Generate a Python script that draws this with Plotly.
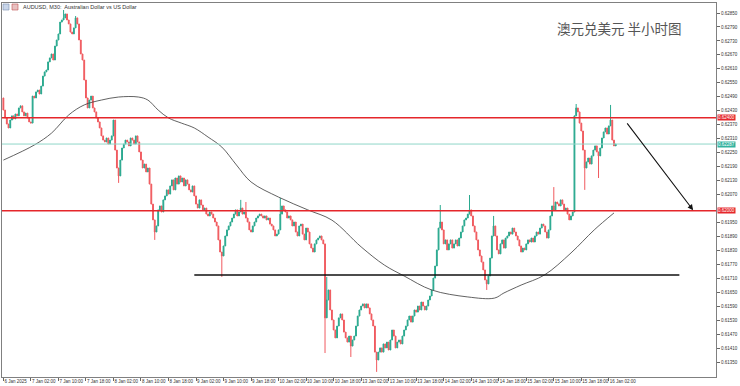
import plotly.graph_objects as go

# ---------------- data (prices in 1e-5 units) ----------------
first_open_e5 = 62485
closes_e5 = [
    62433, 62399, 62373, 62356, 62390, 62408, 62395, 62416, 62408, 62442,
    62451, 62425, 62408, 62420, 62399, 62382, 62377, 62493, 62485, 62511,
    62519, 62502, 62536, 62579, 62597, 62605, 62640, 62657, 62674, 62648,
    62708, 62734, 62760, 62811, 62820, 62829, 62846, 62820, 62803, 62768,
    62760, 62786, 62829, 62803, 62734, 62674, 62648, 62562, 62485, 62442,
    62476, 62493, 62442, 62425, 62399, 62382, 62356, 62322, 62304, 62296,
    62313, 62287, 62304, 62322, 62390, 62261, 62184, 62150, 62218, 62270,
    62287, 62304, 62296, 62279, 62313, 62304, 62287, 62322, 62296, 62253,
    62218, 62184, 62201, 62167, 62184, 62115, 62029, 61961, 61909, 61935,
    62004, 62021, 61995, 62047, 62064, 62090, 62072, 62107, 62133, 62090,
    62141, 62115, 62150, 62124, 62141, 62107, 62133, 62115, 62090, 62081,
    62107, 62064, 62029, 62012, 62047, 62025, 62004, 62012, 61986, 61978,
    61995, 61986, 61969, 61952, 61935, 61875, 61823, 61806, 61849, 61892,
    61918, 61935, 61952, 61969, 61986, 62004, 61978, 61995, 62012, 61986,
    61995, 61969, 61952, 61918, 61909, 61935, 61952, 61969, 61978, 61986,
    61978, 61969, 61978, 61961, 61969, 61943, 61935, 61918, 61892, 61900,
    61918, 61986, 62021, 62004, 61995, 61969, 61978, 61961, 61935, 61952,
    61909, 61892, 61935, 61943, 61900, 61875, 61926, 61909, 61858, 61840,
    61823, 61858, 61875, 61883, 61892, 61875, 61858, 61540, 61617, 61660,
    61574, 61531, 61488, 61454, 61505, 61540, 61557, 61531, 61479, 61454,
    61436, 61462, 61419, 61445, 61462, 61505, 61548, 61574, 61591, 61600,
    61583, 61600, 61583, 61557, 61531, 61505, 61393, 61359, 61393, 61411,
    61393, 61428, 61411, 61436, 61402, 61445, 61488, 61462, 61411, 61436,
    61445, 61428, 61462, 61488, 61505, 61531, 61548, 61522, 61548, 61574,
    61565, 61591, 61574, 61608, 61591, 61574, 61591, 61617, 61634, 61660,
    61711, 61763, 61832, 61926, 61952, 61918, 61858, 61875, 61832, 61858,
    61875, 61840, 61858, 61875, 61849, 61883, 61909, 61935, 61961, 61969,
    61986, 62004, 61978, 61935, 61909, 61875, 61832, 61806, 61780, 61746,
    61703, 61686, 61720, 61797, 61892, 61935, 61892, 61832, 61815, 61858,
    61875, 61840, 61883, 61892, 61909, 61900, 61926, 61909, 61892, 61875,
    61849, 61823, 61840, 61832, 61858, 61875, 61866, 61883, 61866, 61892,
    61909, 61900, 61926, 61943, 61935, 61909, 61883, 61918, 61978, 62021,
    62004, 62038, 62030, 62021, 62047, 62029, 62004, 62012, 61986, 61961,
    61978, 61995, 62408, 62442, 62425, 62377, 62343, 62261, 62184, 62210,
    62227, 62201, 62236, 62261, 62279, 62253, 62236, 62270, 62313, 62339,
    62356, 62330, 62365, 62390, 62304, 62279, 62287,
]
wick_high_e5 = {35: 62863, 42: 62837, 138: 62047, 141: 62038, 161: 62055,
                188: 61716, 254: 62025, 271: 62068, 285: 61978, 320: 62102,
                333: 62459, 353: 62455}
wick_low_e5 = {67: 62120, 88: 61875, 127: 61716, 187: 61389, 202: 61372,
               217: 61308, 281: 61660, 338: 62090, 346: 62141}

ma_bars = [0, 18, 28, 38, 47, 57, 67, 78.5, 84, 90, 96, 103.5, 111, 119, 127,
           135.5, 144, 160, 177, 191, 208, 221.5, 233, 249, 270, 285.5, 291,
           301, 314.5, 330, 343.5, 355]
ma_e5 = [62218, 62283, 62334, 62412, 62455, 62476, 62489, 62489, 62476, 62433,
         62399, 62377, 62356, 62317, 62274, 62197, 62124, 62059, 62004, 61960,
         61845, 61767, 61720, 61660, 61630, 61625, 61647, 61681, 61724, 61819,
         61918, 61991]

tick_bars = list(range(0, 353, 16))
tick_text = ["6 Jan 2025", "7 Jan 02:00", "7 Jan 10:00", "7 Jan 18:00",
             "8 Jan 02:00", "8 Jan 10:00", "8 Jan 18:00", "9 Jan 02:00",
             "9 Jan 10:00", "9 Jan 18:00", "10 Jan 02:00", "10 Jan 10:00",
             "10 Jan 18:00", "13 Jan 02:00", "13 Jan 10:00", "13 Jan 18:00",
             "14 Jan 02:00", "14 Jan 10:00", "14 Jan 18:00", "15 Jan 02:00",
             "15 Jan 10:00", "15 Jan 18:00", "16 Jan 02:00"]
# 0.62010 is hidden behind the support price box in the reference
y_tick_text = ["0.62850", "0.62790", "0.62730", "0.62670", "0.62610", "0.62550",
               "0.62490", "0.62430", "0.62370", "0.62310", "0.62250", "0.62190",
               "0.62130", "0.62070", "0.61950", "0.61890", "0.61830",
               "0.61770", "0.61710", "0.61650", "0.61590", "0.61530", "0.61470",
               "0.61410", "0.61350"]

resistance = 0.62400
support = 0.62000
bid = 0.62287
floor_level = 0.61724
floor_from, floor_to = 111, 393
arrow_from = (362, 0.62382)
arrow_to = (401, 0.62003)

# ---------------- build OHLC ----------------
closes = [c / 1e5 for c in closes_e5]
opens = [first_open_e5 / 1e5] + closes[:-1]
highs, lows = [], []
for i, (o, c) in enumerate(zip(opens, closes)):
    h = max(o, c, wick_high_e5.get(i, 0) / 1e5)
    l = min(o, c, wick_low_e5.get(i, 10 ** 6) / 1e5)
    highs.append(h)
    lows.append(l)
bars = list(range(len(closes)))

UP = "#2aa98f"
DOWN = "#f05a5f"

fig = go.Figure()
fig.add_trace(go.Candlestick(
    x=bars, open=opens, high=highs, low=lows, close=closes,
    increasing=dict(line=dict(color=UP, width=1), fillcolor=UP),
    decreasing=dict(line=dict(color=DOWN, width=1), fillcolor=DOWN),
    whiskerwidth=0, showlegend=False, hoverinfo="skip",
))
fig.add_trace(go.Scatter(
    x=ma_bars, y=[v / 1e5 for v in ma_e5], mode="lines",
    line=dict(color="#3a3a3a", width=0.8, shape="spline"),
    showlegend=False, hoverinfo="skip",
))

W, H = 740, 386
ML, MR, MT, MB = 2, 24, 3, 9
PW, PH = W - ML - MR, H - MT - MB


def px(x):
    return (x - ML) / PW


def py(y):
    return (H - MB - y) / PH


shapes = [
    dict(type="line", xref="paper", x0=0, x1=1, yref="y", y0=resistance, y1=resistance,
         line=dict(color="#e5262b", width=1.5)),
    dict(type="line", xref="paper", x0=0, x1=1, yref="y", y0=support, y1=support,
         line=dict(color="#e5262b", width=1.5)),
    dict(type="line", xref="paper", x0=0, x1=1, yref="y", y0=bid, y1=bid,
         line=dict(color="#8fd6c8", width=1)),
    dict(type="line", xref="x", x0=floor_from, x1=floor_to, yref="y",
         y0=floor_level, y1=floor_level, line=dict(color="#111111", width=1.5)),
    # title icons
    dict(type="rect", xref="paper", yref="paper", x0=px(3), x1=px(9), y0=py(10), y1=py(4),
         line=dict(color="#7a8fb0", width=0.6), fillcolor="#c9d6ea", layer="above"),
    dict(type="rect", xref="paper", yref="paper", x0=px(12), x1=px(18), y0=py(10), y1=py(4),
         line=dict(color="#c05050", width=0.6), fillcolor="#e8c0c0", layer="above"),
]

annotations = [
    dict(xref="paper", yref="paper", x=px(21), y=py(6.5), xanchor="left", yanchor="middle",
         text="AUDUSD, M30:  Australian Dollar vs US Dollar", showarrow=False,
         font=dict(family="Liberation Sans", size=5.5, color="#333333")),
    dict(xref="paper", yref="paper", x=px(619), y=py(28), xanchor="center", yanchor="middle",
         text="澳元兑美元 半小时图", showarrow=False,
         font=dict(family="Noto Sans CJK SC", size=13.5, color="#555555")),
    dict(xref="x", yref="y", x=arrow_to[0], y=arrow_to[1], axref="x", ayref="y",
         ax=arrow_from[0], ay=arrow_from[1], text="", showarrow=True, arrowhead=2,
         arrowsize=1, arrowwidth=1.1, arrowcolor="#111111"),
]
for val, col in [(resistance, "#e5262b"), (support, "#e5262b"), (bid, "#33b39f")]:
    annotations.append(dict(xref="paper", yref="y", x=1.0, y=val, xanchor="left",
                            yanchor="middle", xshift=1, text=f"{val:.5f}", showarrow=False,
                            bgcolor=col, borderpad=0,
                            font=dict(family="Liberation Sans", size=4.5, color="white")))

fig.update_layout(
    width=W, height=H, margin=dict(l=ML, r=MR, t=MT, b=MB, autoexpand=False),
    paper_bgcolor="white", plot_bgcolor="white",
    shapes=shapes, annotations=annotations,
    xaxis=dict(range=[-0.8, 414.3], tickmode="array", tickvals=tick_bars, ticktext=tick_text,
               ticks="outside", ticklen=3, tickcolor="#666666", tickangle=0,
               ticklabelposition="outside right", automargin=False,
               tickfont=dict(family="Liberation Sans", size=4.5, color="#333333"),
               showgrid=False, zeroline=False, showline=True, mirror=True,
               linecolor="#808080", linewidth=1, rangeslider=dict(visible=False)),
    yaxis=dict(range=[0.61286, 0.62893], side="right", tickmode="array",
               tickvals=[float(t) for t in y_tick_text], ticktext=y_tick_text,
               ticks="outside", ticklen=3, tickcolor="#666666", automargin=False,
               tickfont=dict(family="Liberation Sans", size=4.5, color="#333333"),
               showgrid=False, zeroline=False, showline=True, mirror=True,
               linecolor="#808080", linewidth=1),
)

fig.write_html("out.html")
